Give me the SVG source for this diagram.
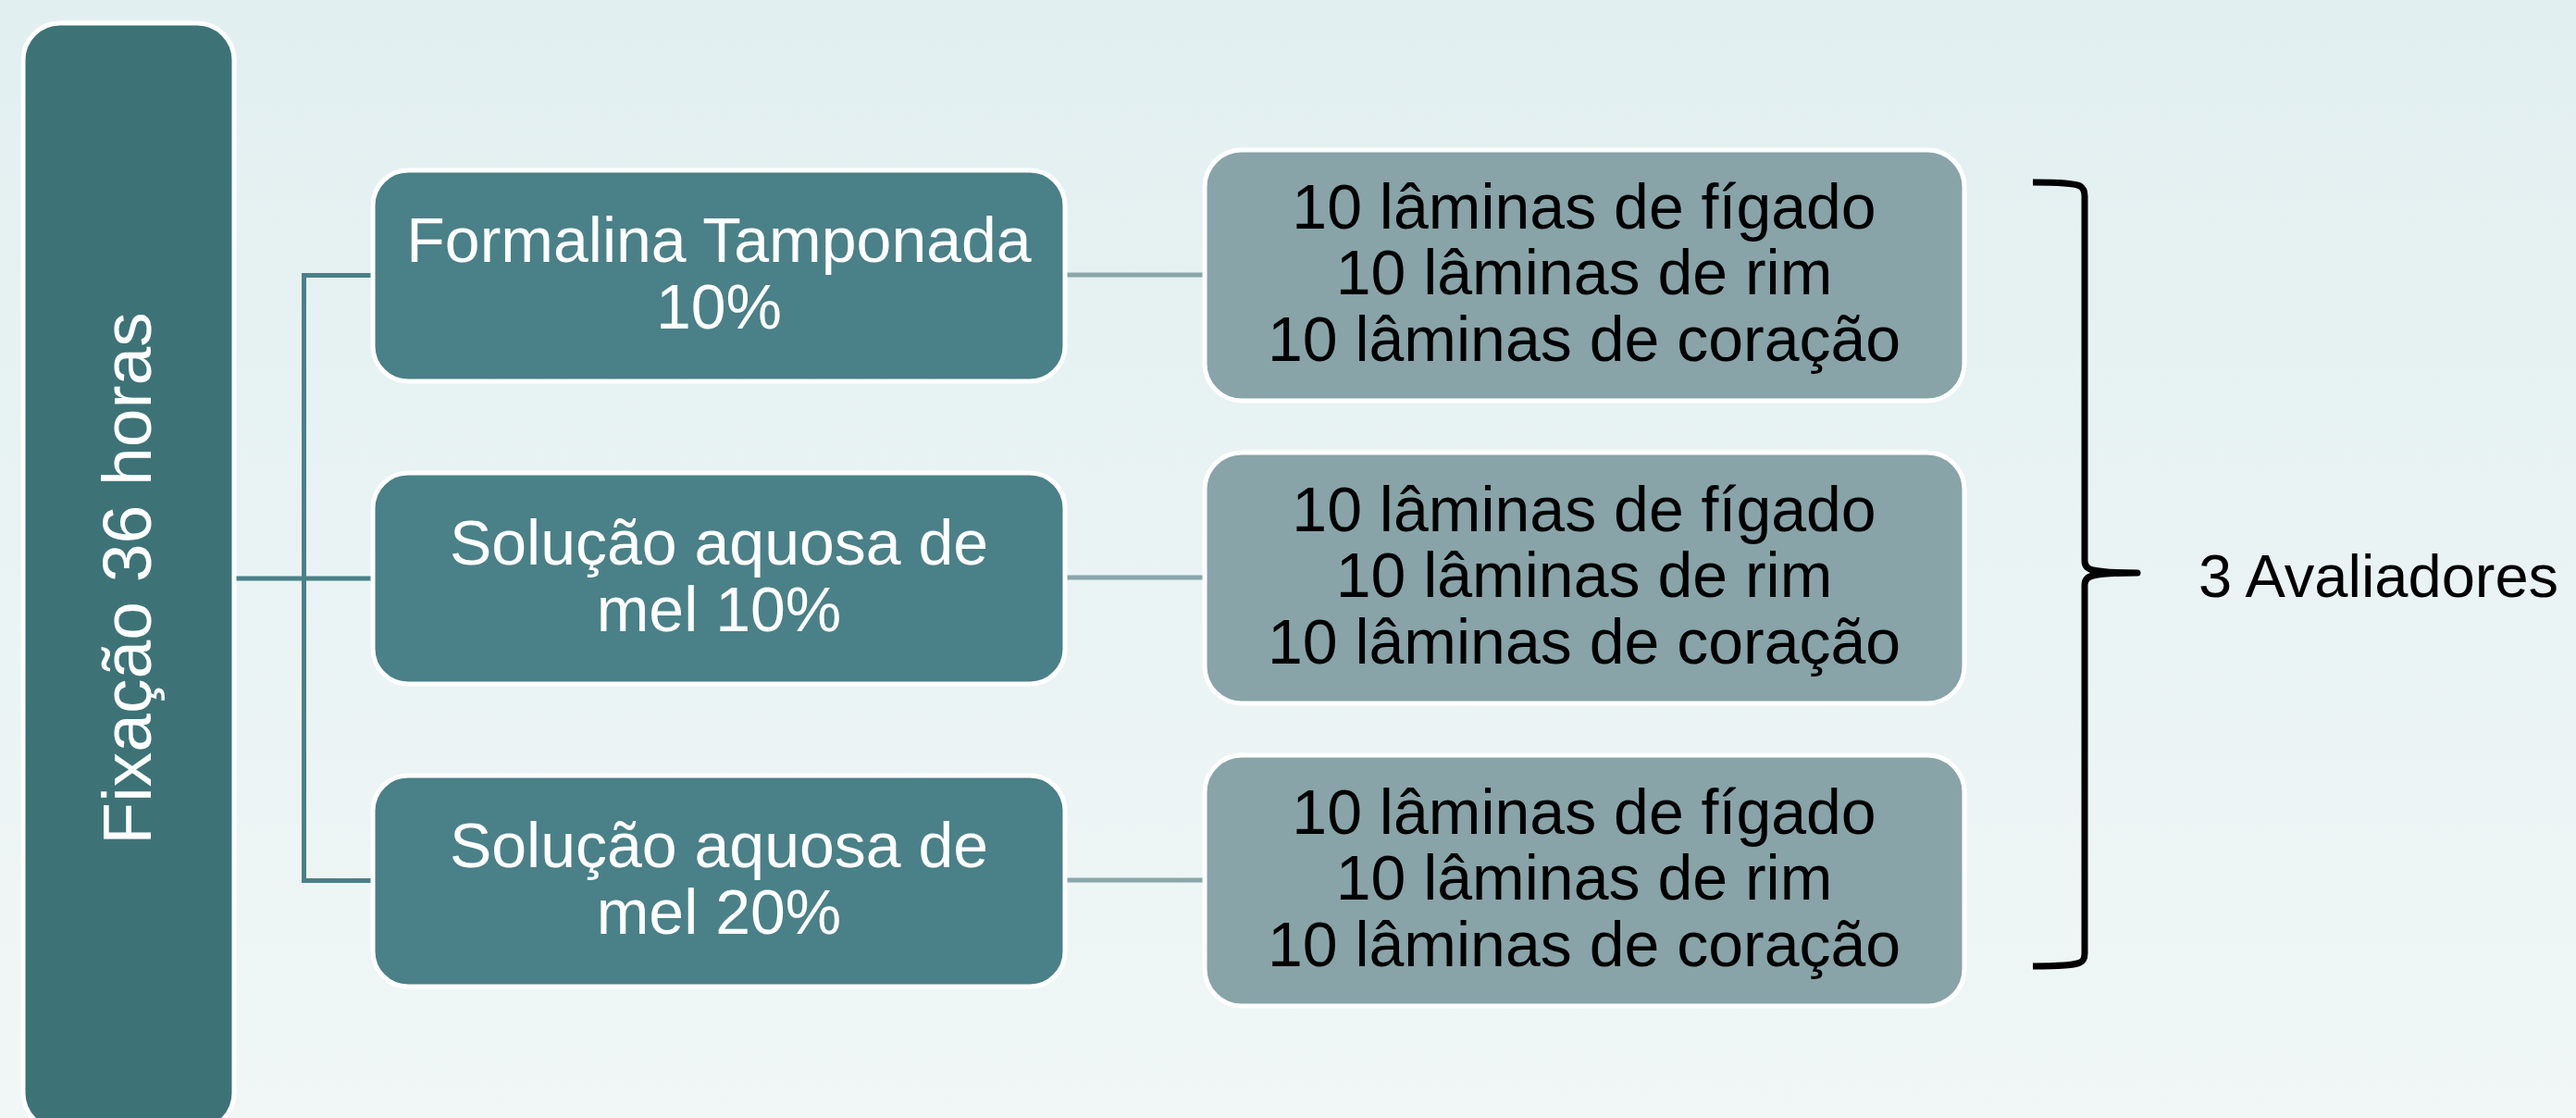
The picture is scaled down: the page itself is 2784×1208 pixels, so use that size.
<svg xmlns="http://www.w3.org/2000/svg" width="2784" height="1208" viewBox="0 0 2784 1208">
<defs>
<linearGradient id="bg" x1="0" y1="0" x2="0" y2="1">
<stop offset="0" stop-color="#e2eff0"/>
<stop offset="1" stop-color="#f0f7f6"/>
</linearGradient>
</defs>
<style>
text{font-family:"Liberation Sans",Arial,sans-serif;}
.main{fill:#3d7377;stroke:#ffffff;stroke-width:5;}
.mid{fill:#4a8087;stroke:#ffffff;stroke-width:5;}
.res{fill:#88a4a8;stroke:#ffffff;stroke-width:5;}
.wt{fill:#ffffff;font-size:68px;text-anchor:middle;}
.bt{fill:#000000;font-size:68px;text-anchor:middle;}
.c1{stroke:#4a8087;stroke-width:5;fill:none;}
.c2{stroke:#8aa6aa;stroke-width:5;fill:none;}
</style>
<rect width="2784" height="1208" fill="url(#bg)"/>
<g id="connectors">
<line class="c1" x1="253" y1="625" x2="403" y2="625"/>
<path class="c1" d="M403,297.5 H328.5 V951.5 H403"/>
<line class="c2" x1="1153" y1="297" x2="1302" y2="297"/>
<line class="c2" x1="1153" y1="624" x2="1302" y2="624"/>
<line class="c2" x1="1153" y1="951" x2="1302" y2="951"/>
</g>
<g id="node-fixacao">
<rect class="main" x="25" y="25" width="228" height="1196" rx="40"/>
<text class="wt" style="font-size:75px" transform="translate(163,625) rotate(-90)">Fixação 36 horas</text>
</g>
<g id="node-formalina">
<rect class="mid" x="403" y="184" width="748" height="228" rx="38"/>
<text class="wt" x="777" y="283">Formalina Tamponada</text>
<text class="wt" x="777" y="355">10%</text>
</g>
<g id="node-mel10">
<rect class="mid" x="403" y="511" width="748" height="228" rx="38"/>
<text class="wt" x="777" y="610">Solução aquosa de</text>
<text class="wt" x="777" y="682">mel 10%</text>
</g>
<g id="node-mel20">
<rect class="mid" x="403" y="838" width="748" height="228" rx="38"/>
<text class="wt" x="777" y="937">Solução aquosa de</text>
<text class="wt" x="777" y="1009">mel 20%</text>
</g>
<g id="node-laminas1">
<rect class="res" x="1302" y="162" width="821" height="271" rx="40"/>
<text class="bt" x="1712" y="247">10 lâminas de fígado</text>
<text class="bt" x="1712" y="318">10 lâminas de rim</text>
<text class="bt" x="1712" y="390">10 lâminas de coração</text>
</g>
<g id="node-laminas2">
<rect class="res" x="1302" y="489" width="821" height="271" rx="40"/>
<text class="bt" x="1712" y="574">10 lâminas de fígado</text>
<text class="bt" x="1712" y="645">10 lâminas de rim</text>
<text class="bt" x="1712" y="717">10 lâminas de coração</text>
</g>
<g id="node-laminas3">
<rect class="res" x="1302" y="816" width="821" height="271" rx="40"/>
<text class="bt" x="1712" y="901">10 lâminas de fígado</text>
<text class="bt" x="1712" y="972">10 lâminas de rim</text>
<text class="bt" x="1712" y="1044">10 lâminas de coração</text>
</g>
<g id="brace">
<path d="M2197,197 Q2240,197 2248,201 Q2253,204 2253,212 L2253,606 Q2253,614 2262,616 Q2275,619 2310,619 Q2275,619 2262,622 Q2253,624 2253,632 L2253,1030 Q2253,1038 2248,1040 Q2240,1044 2197,1044" fill="none" stroke="#000000" stroke-width="7" stroke-linejoin="round"/>
</g>
<g id="node-avaliadores">
<text x="2376" y="645" style="font-size:65px;fill:#000000">3 Avaliadores</text>
</g>
</svg>
